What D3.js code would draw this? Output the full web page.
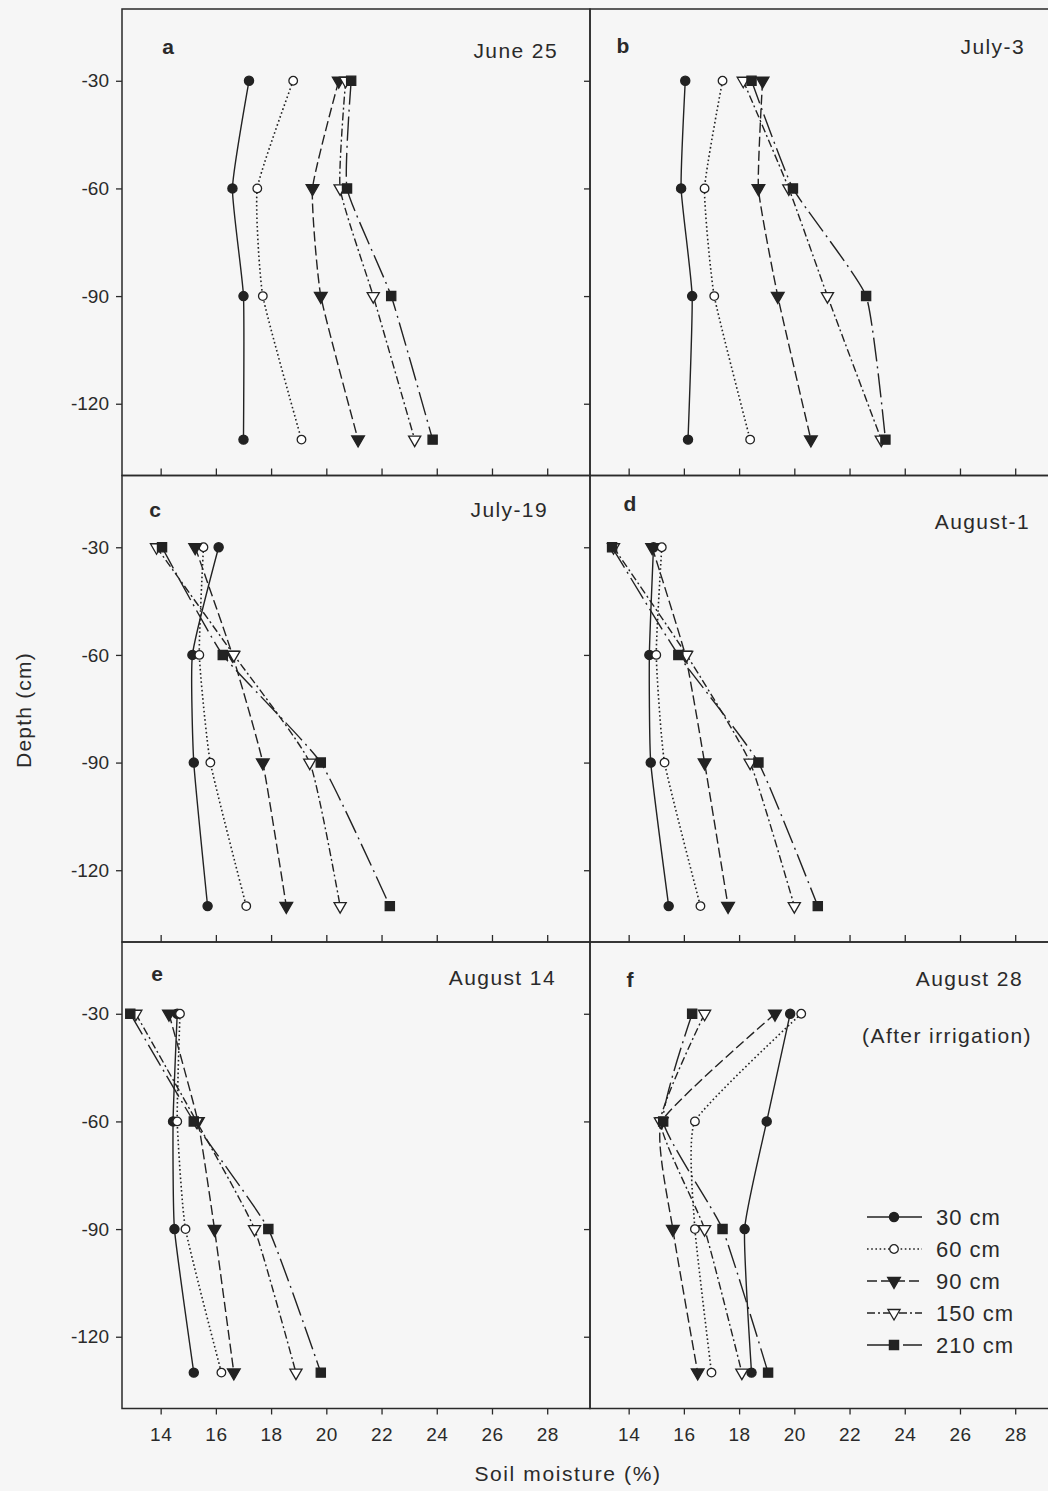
<!DOCTYPE html>
<html>
<head>
<meta charset="utf-8">
<script src="https://cdn.jsdelivr.net/npm/d3@7"></script>
<style>
  html, body { margin: 0; padding: 0; background: #f6f6f6; }
  svg { display: block; }
  text { font-family: "Liberation Sans", Arial, sans-serif; fill: #2a2a2a; }
</style>
</head>
<body>
<svg id="chart" width="1048" height="1491"></svg>
<script>
// Sampling depths (cm below surface) and distance-from-canal series
const depths = [-30, -60, -90, -130];
const seriesNames = ["30 cm", "60 cm", "90 cm", "150 cm", "210 cm"];
const panelLetters = ["a", "b", "c", "d", "e", "f"];
const panelDates = ["June 25", "July-3", "July-19", "August-1", "August 14", "August 28"];
const xTicks = [14, 16, 18, 20, 22, 24, 26, 28];
const yTicks = [-30, -60, -90, -120];

// Soil moisture (%) per series, one value per depth
const june25 = [
  [17.2, 16.6, 17.0, 17.0],
  [18.8, 17.5, 17.7, 19.1],
  [20.45, 19.5, 19.8, 21.15],
  [20.7, 20.5, 21.7, 23.2],
  [20.9, 20.75, 22.35, 23.85]
];
const july3 = [
  [16.05, 15.9, 16.3, 16.15],
  [17.4, 16.75, 17.1, 18.4],
  [18.85, 18.7, 19.4, 20.6],
  [18.15, 19.8, 21.2, 23.15],
  [18.45, 19.95, 22.6, 23.3]
];
const july19 = [
  [16.1, 15.15, 15.2, 15.7],
  [15.55, 15.4, 15.8, 17.1],
  [15.25, 16.6, 17.7, 18.55],
  [13.85, 16.65, 19.4, 20.5],
  [14.05, 16.25, 19.8, 22.3]
];
const august1 = [
  [14.9, 14.75, 14.8, 15.45],
  [15.2, 15.0, 15.3, 16.6],
  [14.85, 16.05, 16.75, 17.6],
  [13.45, 16.1, 18.4, 20.0],
  [13.4, 15.8, 18.7, 20.85]
];
const august14 = [
  [14.6, 14.45, 14.5, 15.2],
  [14.7, 14.6, 14.9, 16.2],
  [14.3, 15.35, 15.95, 16.65],
  [13.1, 15.3, 17.4, 18.9],
  [12.9, 15.2, 17.9, 19.8]
];
const august28 = [
  [19.85, 19.0, 18.2, 18.45],
  [20.25, 16.4, 16.4, 17.0],
  [19.3, 15.2, 15.6, 16.5],
  [16.75, 15.15, 16.75, 18.1],
  [16.3, 15.25, 17.4, 19.05]
];
const panelValues = [june25, july3, july19, august1, august14, august28];

// ---- layout ----
const svg = d3.select("#chart");
const colX = [122, 590];
const rowY = [9, 475.5, 942];
const pw = 468, ph = 466.5;
const ink = "#222";
const plain = d => String(d);   // hyphen-minus, as in the printed figure

const x = d3.scaleLinear().domain([12.6, 29.55]).range([0, pw]);
const y = d3.scaleLinear().domain([-10, -140]).range([0, ph]);

// line dash and marker per series
const styles = [
  { dash: null,        width: 1.4, shape: d3.symbolCircle,   size: 66, fill: ink,    rot: 0 },
  { dash: "1.6,2.6",   width: 1.6, shape: d3.symbolCircle,   size: 58, fill: "#fff", rot: 0 },
  { dash: "10,4",      width: 1.4, shape: d3.symbolTriangle, size: 70, fill: ink,    rot: 180 },
  { dash: "8,3,2,3",   width: 1.4, shape: d3.symbolTriangle, size: 64, fill: "#fff", rot: 180 },
  { dash: "24,5,2,5",  width: 1.4, shape: d3.symbolSquare,   size: 84, fill: ink,    rot: 0 }
];

// label placement inside each panel: [letterX, letterY, dateRightX, dateY]
const labelPos = [
  [46, 45, 436, 49],
  [33, 44, 435, 45],
  [33, 41, 426, 41],
  [40, 35, 440, 53],
  [35, 39, 434, 43],
  [40, 45, 433, 44]
];

const line = d3.line()
  .x(d => x(d[0]))
  .y(d => y(d[1]))
  .curve(d3.curveCardinal.tension(0.55));

panelValues.forEach((vals, i) => {
  const col = i % 2, row = Math.floor(i / 2);
  const g = svg.append("g").attr("transform", `translate(${colX[col]},${rowY[row]})`);

  // frame
  g.append("rect")
    .attr("width", pw).attr("height", ph)
    .attr("fill", "none").attr("stroke", "#2a2a2a").attr("stroke-width", 1.5);

  // y axis
  const ya = g.append("g").call(
    d3.axisLeft(y).tickValues(yTicks).tickSize(6).tickPadding(7)
      .tickFormat(col === 0 ? plain : () => "")
  );
  ya.select(".domain").remove();
  ya.selectAll("line").attr("stroke", "#2a2a2a").attr("stroke-width", 1.3);
  ya.selectAll("text").attr("font-size", 19).attr("fill", "#2a2a2a")
    .style("font-family", "'Liberation Sans', Arial, sans-serif");

  // x axis
  const xa = g.append("g").attr("transform", `translate(0,${ph})`);
  if (row === 2) {
    xa.call(d3.axisBottom(x).tickValues(xTicks).tickSize(6).tickPadding(13).tickFormat(plain));
  } else {
    xa.call(d3.axisBottom(x).tickValues(xTicks).tickSize(-7).tickFormat(() => ""));
  }
  xa.select(".domain").remove();
  xa.selectAll("line").attr("stroke", "#2a2a2a").attr("stroke-width", 1.3);
  xa.selectAll("text").attr("font-size", 19).attr("fill", "#2a2a2a").attr("letter-spacing", 0.5)
    .style("font-family", "'Liberation Sans', Arial, sans-serif");

  // profile lines
  vals.forEach((s, k) => {
    const pts = s.map((v, j) => [v, depths[j]]);
    g.append("path")
      .attr("d", line(pts))
      .attr("fill", "none")
      .attr("stroke", ink)
      .attr("stroke-width", styles[k].width)
      .attr("stroke-dasharray", styles[k].dash);
  });

  // markers
  vals.forEach((s, k) => {
    const st = styles[k];
    g.selectAll(null).data(s.map((v, j) => [v, depths[j]])).join("path")
      .attr("d", d3.symbol().type(st.shape).size(st.size))
      .attr("transform", d => `translate(${x(d[0])},${y(d[1])}) rotate(${st.rot})`)
      .attr("fill", st.fill)
      .attr("stroke", ink)
      .attr("stroke-width", 1.3);
  });

  // panel letter and date
  const lp = labelPos[i];
  g.append("text")
    .attr("x", lp[0]).attr("y", lp[1])
    .attr("text-anchor", "middle")
    .attr("font-size", 21).attr("font-weight", "bold")
    .text(panelLetters[i]);
  g.append("text")
    .attr("x", lp[2]).attr("y", lp[3])
    .attr("text-anchor", "end")
    .attr("font-size", 21).attr("letter-spacing", 1.4)
    .text(panelDates[i]);
});

// note under the last date
svg.append("text")
  .attr("x", 1032).attr("y", 1043)
  .attr("text-anchor", "end")
  .attr("font-size", 21).attr("letter-spacing", 1.4)
  .text("(After irrigation)");

// legend
const legend = svg.append("g").attr("transform", "translate(867,1217)");
seriesNames.forEach((name, k) => {
  const st = styles[k];
  const row = legend.append("g").attr("transform", `translate(0,${k * 32})`);
  row.append("line")
    .attr("x1", 0).attr("x2", 55).attr("y1", 0).attr("y2", 0)
    .attr("stroke", ink).attr("stroke-width", st.width)
    .attr("stroke-dasharray", st.dash);
  row.append("path")
    .attr("d", d3.symbol().type(st.shape).size(st.size))
    .attr("transform", `translate(27,0) rotate(${st.rot})`)
    .attr("fill", st.fill).attr("stroke", ink).attr("stroke-width", 1.3);
  row.append("text")
    .attr("x", 69).attr("y", 8)
    .attr("font-size", 22).attr("letter-spacing", 1)
    .text(name);
});

// axis titles
svg.append("text")
  .attr("transform", "translate(31,710) rotate(-90)")
  .attr("text-anchor", "middle")
  .attr("font-size", 21).attr("letter-spacing", 1.2)
  .text("Depth (cm)");
svg.append("text")
  .attr("x", 568).attr("y", 1481)
  .attr("text-anchor", "middle")
  .attr("font-size", 21).attr("letter-spacing", 1.6)
  .text("Soil moisture (%)");
</script>
</body>
</html>
